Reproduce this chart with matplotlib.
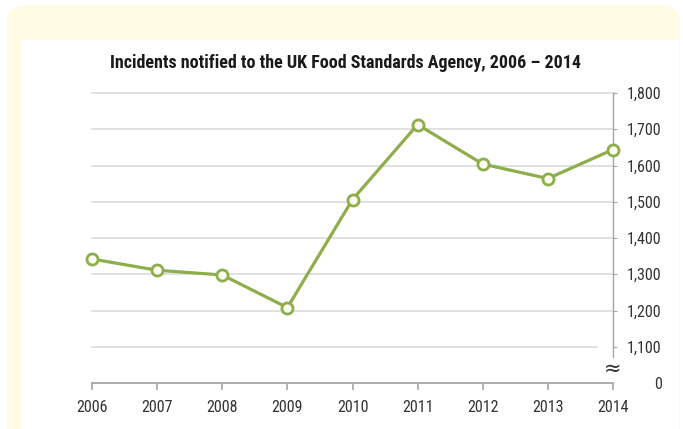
import matplotlib
matplotlib.use("Agg")
import matplotlib.pyplot as plt
from matplotlib.patches import FancyBboxPatch, Rectangle
from matplotlib import font_manager

years = [2006, 2007, 2008, 2009, 2010, 2011, 2012, 2013, 2014]
incidents = [1342, 1311, 1298, 1208, 1506, 1713, 1604, 1564, 1644]
ytick_vals = [1000, 1100, 1200, 1300, 1400, 1500, 1600, 1700, 1800]
ytick_labels = ["0", "1,100", "1,200", "1,300", "1,400", "1,500", "1,600", "1,700", "1,800"]
title = "Incidents notified to the UK Food Standards Agency, 2006 \u2013 2014"

avail = {f.name for f in font_manager.fontManager.ttflist}
fam = [f for f in ["Roboto Condensed", "PT Sans Narrow", "Liberation Sans", "DejaVu Sans"] if f in avail]
plt.rcParams["font.family"] = fam

W, H = 683, 429
fig = plt.figure(figsize=(W / 100, H / 100), dpi=100, facecolor="white")

cream = "#FFFAE3"
fig.patches.append(FancyBboxPatch((7 / W, -0.2), (680 - 7) / W, (H - 5) / H + 0.2,
                                  boxstyle="round,pad=0,rounding_size=0.035",
                                  transform=fig.transFigure, facecolor=cream,
                                  edgecolor="none", zorder=-3))
fig.patches.append(Rectangle((21 / W, 0), (679 - 21) / W, (H - 40) / H,
                             transform=fig.transFigure, facecolor="white",
                             edgecolor="none", zorder=-2))

left, right = 92 / W, 613 / W
bottom, top = 1 - 383 / H, 1 - 93 / H
ax = fig.add_axes([left, bottom, right - left, top - bottom])
ax.set_facecolor("none")
ax.set_zorder(1)

green = "#8DAE4B"
ax.set_xlim(2006, 2014)
ax.set_ylim(1000, 1800)

grid_c = "#DCDCDC"
for v in ytick_vals[1:]:
    xe = 2013.75 if v == 1100 else 2014
    ax.plot([2006, xe], [v, v], color=grid_c, lw=1.2, zorder=1, clip_on=False)

ax.plot(years, incidents, color=green, lw=2.3, marker="o", markersize=8,
        markerfacecolor="#FBFBEF", markeredgecolor=green, markeredgewidth=2,
        zorder=3, clip_on=False)

for s in ["left", "top"]:
    ax.spines[s].set_visible(False)
axis_c = "#A6A6A6"
ax.spines["bottom"].set_color(axis_c)
ax.spines["bottom"].set_linewidth(1.3)
ax.spines["right"].set_color(axis_c)
ax.spines["right"].set_linewidth(1.0)
ax.spines["right"].set_bounds(1072, 1800)

lab_fs = 11.5
ax.set_xticks(years)
ax.set_xticklabels([str(y) for y in years])
ax.tick_params(axis="x", direction="out", length=5, width=1.2, color=axis_c,
               labelsize=lab_fs, labelcolor="#333333", pad=7)

ax.yaxis.tick_right()
ax.set_yticks(ytick_vals)
ax.set_yticklabels(ytick_labels)
ax.tick_params(axis="y", direction="out", length=3, width=0.8, color=axis_c,
               labelsize=lab_fs, labelcolor="#333333", pad=32)
for lbl in ax.get_yticklabels():
    lbl.set_horizontalalignment("right")
ax.yaxis.get_major_ticks()[0].tick2line.set_visible(False)
ax.yaxis.get_major_ticks()[0].tick1line.set_visible(False)

ax.text(2014, 1040, "\u2248", ha="center", va="center", fontsize=15,
        color="#333333", family=["DejaVu Sans"])

fig.text(346 / W, 1 - 63 / H, title, ha="center", va="center",
         fontsize=13, fontweight="bold", color="#1A1A1A")

fig.savefig("out.png", dpi=100, facecolor=fig.get_facecolor())
